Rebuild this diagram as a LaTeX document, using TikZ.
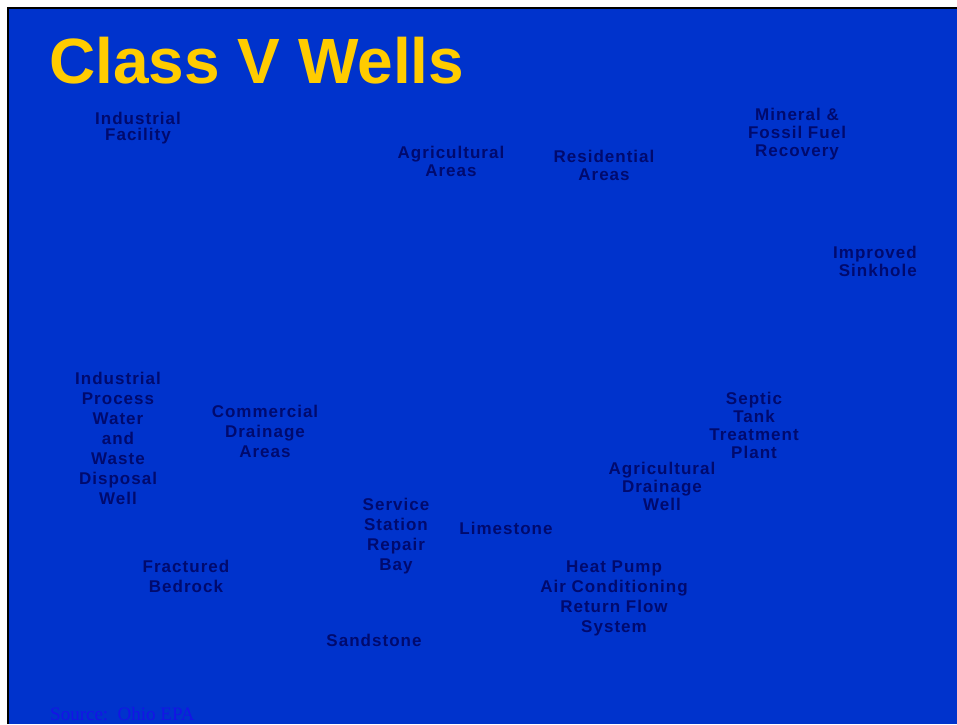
\documentclass[tikz,border=0pt]{standalone}
\usepackage{fontspec}
\setmainfont{Liberation Serif}
\setsansfont{Liberation Sans}
\definecolor{slideblue}{HTML}{0033CC}
\definecolor{titleyellow}{HTML}{FFCC00}
\definecolor{labelnavy}{HTML}{000A6E}
\definecolor{sourceblue}{HTML}{1414E6}

\begin{document}
\begin{tikzpicture}[x=1pt, y=-1pt,
  lbl/.style={align=center, text=labelnavy, inner sep=0pt,
    font=\sffamily\bfseries\fontsize{17}{18}\selectfont\addfontfeature{LetterSpace=6}},
  lblwide/.style={lbl, font=\sffamily\bfseries\fontsize{17}{20}\selectfont\addfontfeature{LetterSpace=6}},
  lbltight/.style={lbl, font=\sffamily\bfseries\fontsize{17}{16}\selectfont\addfontfeature{LetterSpace=6}}]
  \useasboundingbox (0,0) rectangle (957,724);
  \fill[white] (0,0) rectangle (957,724);
  \fill[slideblue] (9,9) rectangle (957,724);
  \draw[line width=2pt] (8,724) -- (8,8) -- (957,8);
  % title and source
  \node[anchor=base west, inner sep=0pt, text=titleyellow,
    font=\sffamily\bfseries\fontsize{64}{64}\selectfont] (title) at (49,83) {Class V Wells};
  \node[anchor=base west, inner sep=0pt, text=sourceblue,
    font=\rmfamily\fontsize{19}{19}\selectfont] (source) at (50,720) {Source:\ \ Ohio EPA};
  % surface
  \node[lbltight] (indfac) at (138,128) {Industrial\\Facility};
  \node[lbl] (agarea) at (451,161) {Agricultural\\Areas};
  \node[lbl] (resarea) at (604,165) {Residential\\Areas};
  \node[lbl] (mineral) at (797,134) {Mineral \&\\Fossil Fuel\\Recovery};
  \node[lbl, align=right, anchor=east] (sinkhole) at (917,261) {Improved\\Sinkhole};
  % wells
  \node[lblwide] (indproc) at (118,438) {Industrial\\Process\\Water\\and\\Waste\\Disposal\\Well};
  \node[lblwide] (commdrain) at (265,431) {Commercial\\Drainage\\Areas};
  \node[lbl] (septic) at (754,425) {Septic\\Tank\\Treatment\\Plant};
  \node[lbl] (agdrain) at (662,486) {Agricultural\\Drainage\\Well};
  \node[lblwide] (service) at (396,536) {Service\\Station\\Repair\\Bay};
  \node[lblwide] (heatpump) at (614,598) {Heat Pump\\Air Conditioning\\Return Flow\\System};
  % rock
  \node[lbl] (limestone) at (506,528) {Limestone};
  \node[lblwide] (bedrock) at (186,576) {Fractured\\Bedrock};
  \node[lbl] (sandstone) at (374,640) {Sandstone};
\end{tikzpicture}
\end{document}
